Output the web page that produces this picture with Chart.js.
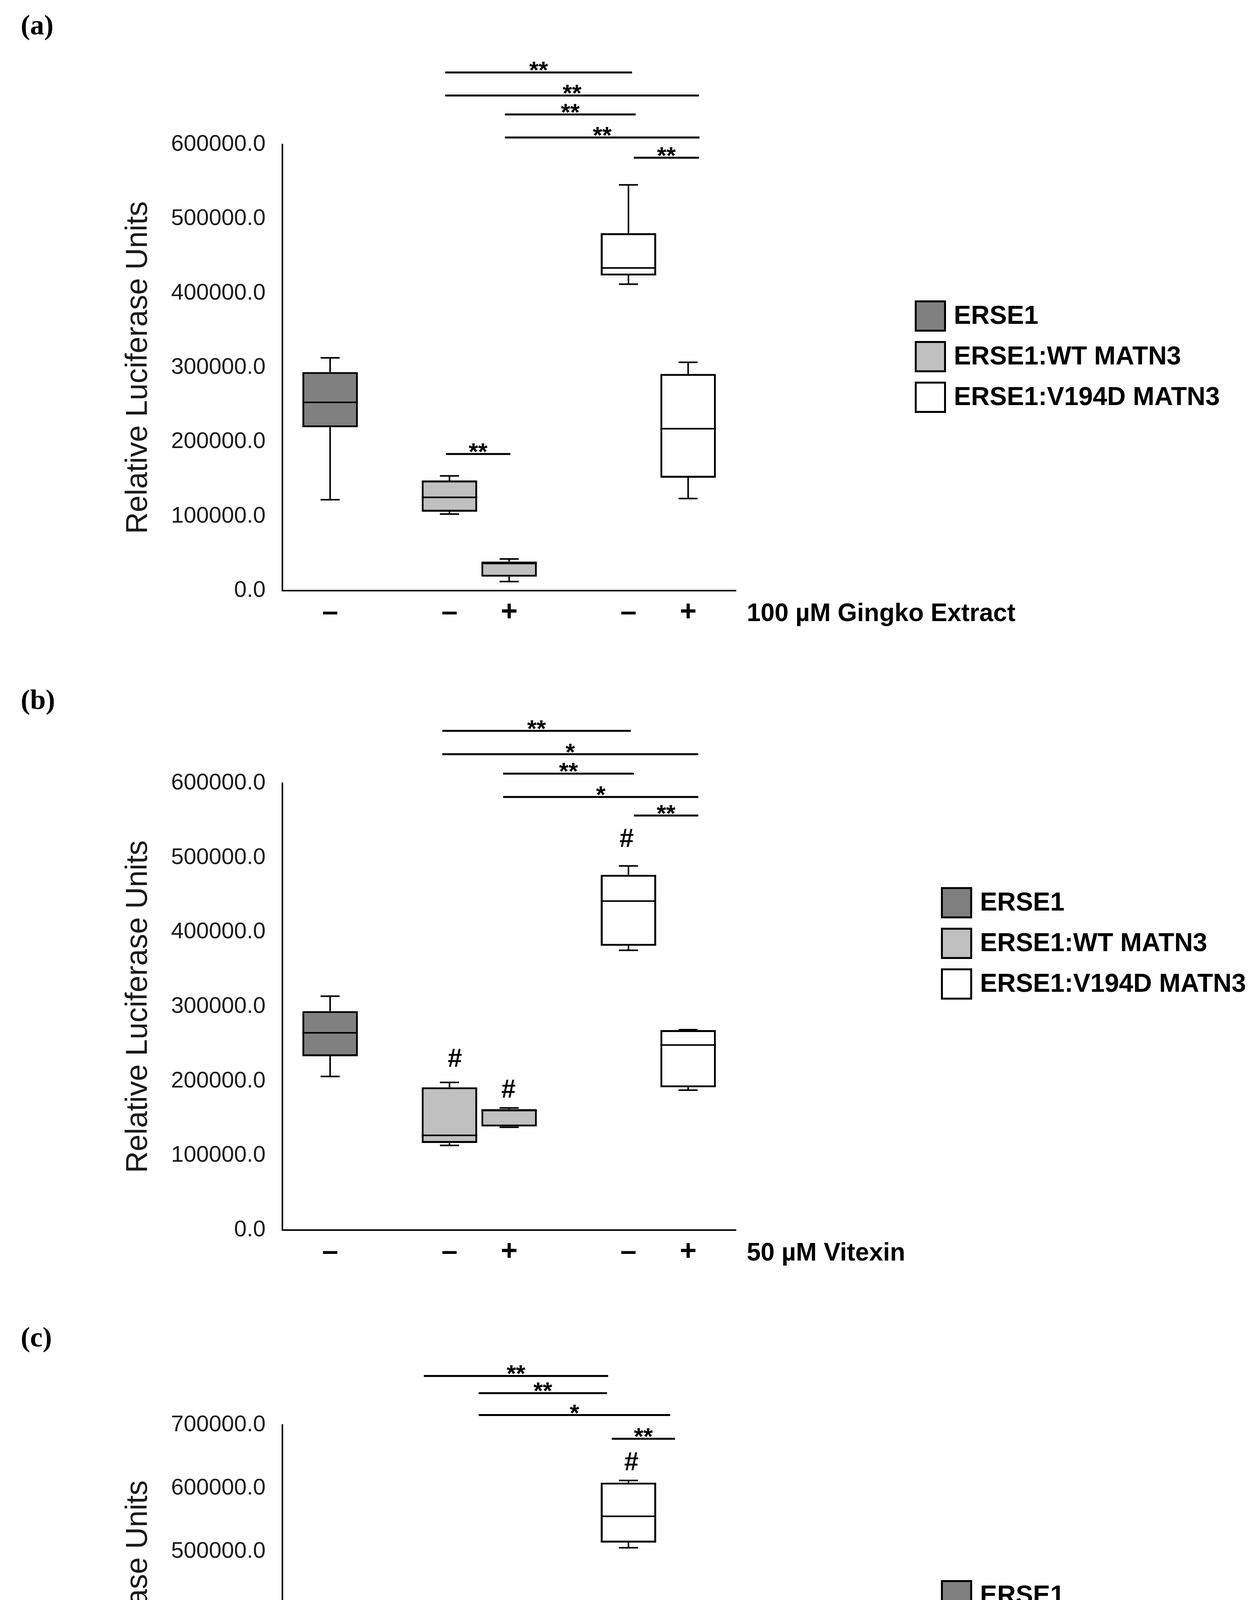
<!DOCTYPE html>
<html>
<head>
<meta charset="utf-8">
<script src="https://cdn.jsdelivr.net/npm/chart.js@4.4.0/dist/chart.umd.min.js"></script>
<style>
html,body{margin:0;padding:0;background:#fff;}
#wrap{position:relative;width:3208px;height:4861px;overflow:hidden;background:#fff;}
canvas{position:absolute;left:0;}
.plabel{position:absolute;left:53px;font-family:'Liberation Serif','Times New Roman',serif;font-weight:bold;font-size:72px;line-height:1;color:#000;}
</style>
</head>
<body>
<div id="wrap">
  <canvas id="cA" width="3208" height="1640" style="top:0px;width:3208px;height:1640px"></canvas>
  <canvas id="cB" width="3208" height="1610" style="top:1640px;width:3208px;height:1610px"></canvas>
  <canvas id="cC" width="3208" height="1611" style="top:3250px;width:3208px;height:1611px"></canvas>
  <div class="plabel" style="top:28px">(a)</div>
  <div class="plabel" style="top:1755px">(b)</div>
  <div class="plabel" style="top:3387px">(c)</div>
</div>
<script>
// ---------- shared categories ----------
const seriesNames = ['ERSE1', 'ERSE1:WT MATN3', 'ERSE1:V194D MATN3'];
const seriesFills = ['#808080', '#c0c0c0', '#ffffff'];
const xPositions = [1, 3, 4, 6, 7];
const boxSeries = [0, 1, 1, 2, 2];
const xTickLabels = ['\u2013', '\u2013', '+', '\u2013', '+'];
const yAxisTitle = 'Relative Luciferase Units';

// ---------- panel (a): Gingko ----------
const aTreatment = '100 \u00B5M Gingko Extract';
const aMin = [122300, 103000, 12200, 412200, 123900];
const aQ1  = [219800, 106100, 18800, 423900, 151800];
const aMed = [253300, 125400, 36500, 434000, 217800];
const aQ3  = [293900, 148200, 39100, 480700, 291400];
const aMax = [313200, 154300, 42600, 545700, 307100];
const aYTicks = [0, 100000, 200000, 300000, 400000, 500000, 600000];
const aSigFrom = [2.93, 2.93, 3.93, 3.93, 6.09, 2.94];
const aSigTo   = [6.06, 7.18, 6.12, 7.19, 7.18, 4.02];
const aSigY    = [697000, 666000, 640400, 609500, 582300, 183800];
const aSigText = ['**', '**', '**', '**', '**', '**'];
const aHashX = [];
const aHashY = [];

// ---------- panel (b): Vitexin ----------
const bTreatment = '50 \u00B5M Vitexin';
const bMin = [206300, 113700, 138100, 375700, 187900];
const bQ1  = [233400, 116900, 139100, 381700, 191700];
const bMed = [264800, 127200, 160500, 441800, 248500];
const bQ3  = [294000, 191700, 162400, 477000, 268500];
const bMax = [314000, 198200, 164000, 488900, 269100];
const bYTicks = [0, 100000, 200000, 300000, 400000, 500000, 600000];
const bSigFrom = [2.88, 2.88, 3.90, 3.90, 6.09];
const bSigTo   = [6.04, 7.17, 6.09, 7.17, 7.17];
const bSigY    = [670300, 638900, 612900, 581500, 556600];
const bSigText = ['**', '*', '**', '*', '**'];
const bHashX = [3.09, 3.99, 5.97];
const bHashY = [229000, 187300, 524000];

// ---------- panel (c): Curcumin ----------
const cTreatment = '0.2 \u00B5M Curcumin';
const cMin = [291800, 234700, 134900, 506300, 264700];
const cQ1  = [293500, 238800, 196700, 514400, 276200];
const cMed = [306200, 261200, 219700, 555900, 297600];
const cQ3  = [321800, 295800, 251400, 609000, 312600];
const cMax = [340800, 305100, 286000, 612500, 340800];
const cYTicks = [0, 100000, 200000, 300000, 400000, 500000, 600000, 700000];
const cSigFrom = [2.57, 3.49, 3.49, 5.72];
const cSigTo   = [5.66, 5.64, 6.70, 6.78];
const cSigY    = [777400, 750300, 715700, 678200];
const cSigText = ['**', '**', '*', '**'];
const cHashX = [2.80, 3.89, 6.05];
const cHashY = [348300, 309100, 639600];

// ---------- drawing ----------
const FONT = "'Liberation Sans', Arial, Helvetica, sans-serif";
Chart.defaults.font.family = FONT;
Chart.defaults.color = '#1a1a1a';

const extrasPlugin = {
  id: 'extras',
  afterDatasetsDraw(chart, args, o) {
    const ctx = chart.ctx, xs = chart.scales.x, ys = chart.scales.y;
    const slot = xs.getPixelForValue(2) - xs.getPixelForValue(1);
    ctx.save();
    ctx.strokeStyle = '#000';
    ctx.lineCap = 'butt';
    // whiskers and medians
    const counters = [0, 0, 0];
    o.xPos.forEach((xv, i) => {
      const d = o.series[i];
      const el = chart.getDatasetMeta(d).data[counters[d]++];
      const cx = xs.getPixelForValue(xv);
      const half = el ? el.width / 2 : slot * 0.465;
      const capHalf = slot * 0.16;
      const yMin = ys.getPixelForValue(o.min[i]);
      const yQ1 = ys.getPixelForValue(o.q1[i]);
      const yMed = ys.getPixelForValue(o.med[i]);
      const yQ3 = ys.getPixelForValue(o.q3[i]);
      const yMax = ys.getPixelForValue(o.max[i]);
      ctx.lineWidth = 4;
      ctx.beginPath();
      ctx.moveTo(cx, yQ3); ctx.lineTo(cx, yMax);
      ctx.moveTo(cx - capHalf, yMax); ctx.lineTo(cx + capHalf, yMax);
      ctx.moveTo(cx, yQ1); ctx.lineTo(cx, yMin);
      ctx.moveTo(cx - capHalf, yMin); ctx.lineTo(cx + capHalf, yMin);
      ctx.stroke();
      ctx.lineWidth = 4;
      ctx.beginPath();
      ctx.moveTo(cx - half, yMed); ctx.lineTo(cx + half, yMed);
      ctx.stroke();
    });
    // significance bars
    ctx.fillStyle = '#000';
    ctx.textAlign = 'center';
    o.sigFrom.forEach((f, i) => {
      const x1 = xs.getPixelForValue(f), x2 = xs.getPixelForValue(o.sigTo[i]);
      const y = ys.getPixelForValue(o.sigY[i]);
      ctx.lineWidth = 5;
      ctx.beginPath(); ctx.moveTo(x1, y); ctx.lineTo(x2, y); ctx.stroke();
      ctx.font = 'bold 62px ' + FONT;
      ctx.textBaseline = 'alphabetic';
      ctx.fillText(o.sigText[i], (x1 + x2) / 2, y + 15);
    });
    // hash marks
    ctx.font = 'bold 66px ' + FONT;
    ctx.textBaseline = 'middle';
    o.hashX.forEach((hx, i) => {
      ctx.fillText('#', xs.getPixelForValue(hx), ys.getPixelForValue(o.hashY[i]));
    });
    // treatment label to the right of the x ticks
    ctx.textAlign = 'left';
    ctx.font = 'bold 64px ' + FONT;
    ctx.fillText(o.treatment, chart.chartArea.right + 28, chart.chartArea.bottom + 60);
    // legend
    chart.data.datasets.forEach((ds, i) => {
      const cy = o.legendY[i];
      ctx.fillStyle = ds.backgroundColor;
      ctx.fillRect(o.legendX, cy - 40, 80, 80);
      ctx.lineWidth = 5;
      ctx.strokeStyle = '#000';
      ctx.strokeRect(o.legendX + 2.5, cy - 40 + 2.5, 75, 75);
      ctx.fillStyle = '#000';
      ctx.font = 'bold 66px ' + FONT;
      ctx.textBaseline = 'middle';
      ctx.fillText(ds.label, o.legendX + 100, cy + 2);
    });
    ctx.restore();
  }
};

function makePanel(canvasId, p) {
  const datasets = seriesNames.map((name, d) => ({
    label: name,
    backgroundColor: seriesFills[d],
    borderColor: '#000',
    borderWidth: 5,
    borderSkipped: false,
    data: xPositions.map((xv, i) => ({ i, xv }))
      .filter(o => boxSeries[o.i] === d)
      .map(o => ({ x: o.xv, y: [p.q1[o.i], p.q3[o.i]] }))
  }));
  new Chart(document.getElementById(canvasId), {
    type: 'bar',
    data: { datasets },
    options: {
      responsive: false,
      animation: false,
      devicePixelRatio: 1,
      layout: { padding: { left: 300, right: 3208 - 1884, top: p.areaTop, bottom: 0 } },
      datasets: { bar: { grouped: false, categoryPercentage: 1, barPercentage: 0.93 } },
      plugins: {
        legend: { display: false },
        tooltip: { enabled: false },
        extras: {
          xPos: xPositions, series: boxSeries,
          min: p.min, q1: p.q1, med: p.med, q3: p.q3, max: p.max,
          sigFrom: p.sigFrom, sigTo: p.sigTo, sigY: p.sigY, sigText: p.sigText,
          hashX: p.hashX, hashY: p.hashY, treatment: p.treatment,
          legendX: p.legendX, legendY: p.legendY
        }
      },
      scales: {
        x: {
          type: 'linear', min: 0.2, max: 7.8, offset: false,
          grid: { display: false, drawTicks: false },
          border: { display: true, color: '#000', width: 4 },
          afterBuildTicks: s => { s.ticks = xPositions.map(v => ({ value: v })); },
          ticks: {
            autoSkip: false, maxRotation: 0, minRotation: 0, padding: 12, color: '#000',
            font: { size: 74, weight: 'bold' },
            callback: v => { const k = xPositions.indexOf(v); return k >= 0 ? xTickLabels[k] : ''; }
          },
          afterFit: s => { s.height = p.height - p.areaBottom; }
        },
        y: {
          min: 0, max: p.yTicks[p.yTicks.length - 1],
          grid: { display: false, drawTicks: false },
          border: { display: true, color: '#000', width: 4 },
          afterBuildTicks: s => { s.ticks = p.yTicks.map(v => ({ value: v })); },
          ticks: { padding: 43, color: '#1a1a1a', font: { size: 58 }, callback: v => Number(v).toFixed(1) },
          title: { display: true, text: yAxisTitle, color: '#1a1a1a', font: { size: 77 }, padding: { top: 9, bottom: 0 } },
          afterFit: s => { s.width = 423; }
        }
      }
    },
    plugins: [extrasPlugin]
  });
}

makePanel('cA', { height: 1640, areaTop: 370, areaBottom: 1512,
  min: aMin, q1: aQ1, med: aMed, q3: aQ3, max: aMax, yTicks: aYTicks,
  sigFrom: aSigFrom, sigTo: aSigTo, sigY: aSigY, sigText: aSigText,
  hashX: aHashX, hashY: aHashY, treatment: aTreatment,
  legendX: 2342, legendY: [809, 913, 1017] });

makePanel('cB', { height: 1610, areaTop: 365, areaBottom: 1509,
  min: bMin, q1: bQ1, med: bMed, q3: bQ3, max: bMax, yTicks: bYTicks,
  sigFrom: bSigFrom, sigTo: bSigTo, sigY: bSigY, sigText: bSigText,
  hashX: bHashX, hashY: bHashY, treatment: bTreatment,
  legendX: 2409, legendY: [671, 775, 879] });

makePanel('cC', { height: 1611, areaTop: 398, areaBottom: 1534,
  min: cMin, q1: cQ1, med: cMed, q3: cQ3, max: cMax, yTicks: cYTicks,
  sigFrom: cSigFrom, sigTo: cSigTo, sigY: cSigY, sigText: cSigText,
  hashX: cHashX, hashY: cHashY, treatment: cTreatment,
  legendX: 2409, legendY: [835, 940, 1045] });
</script>
</body>
</html>
